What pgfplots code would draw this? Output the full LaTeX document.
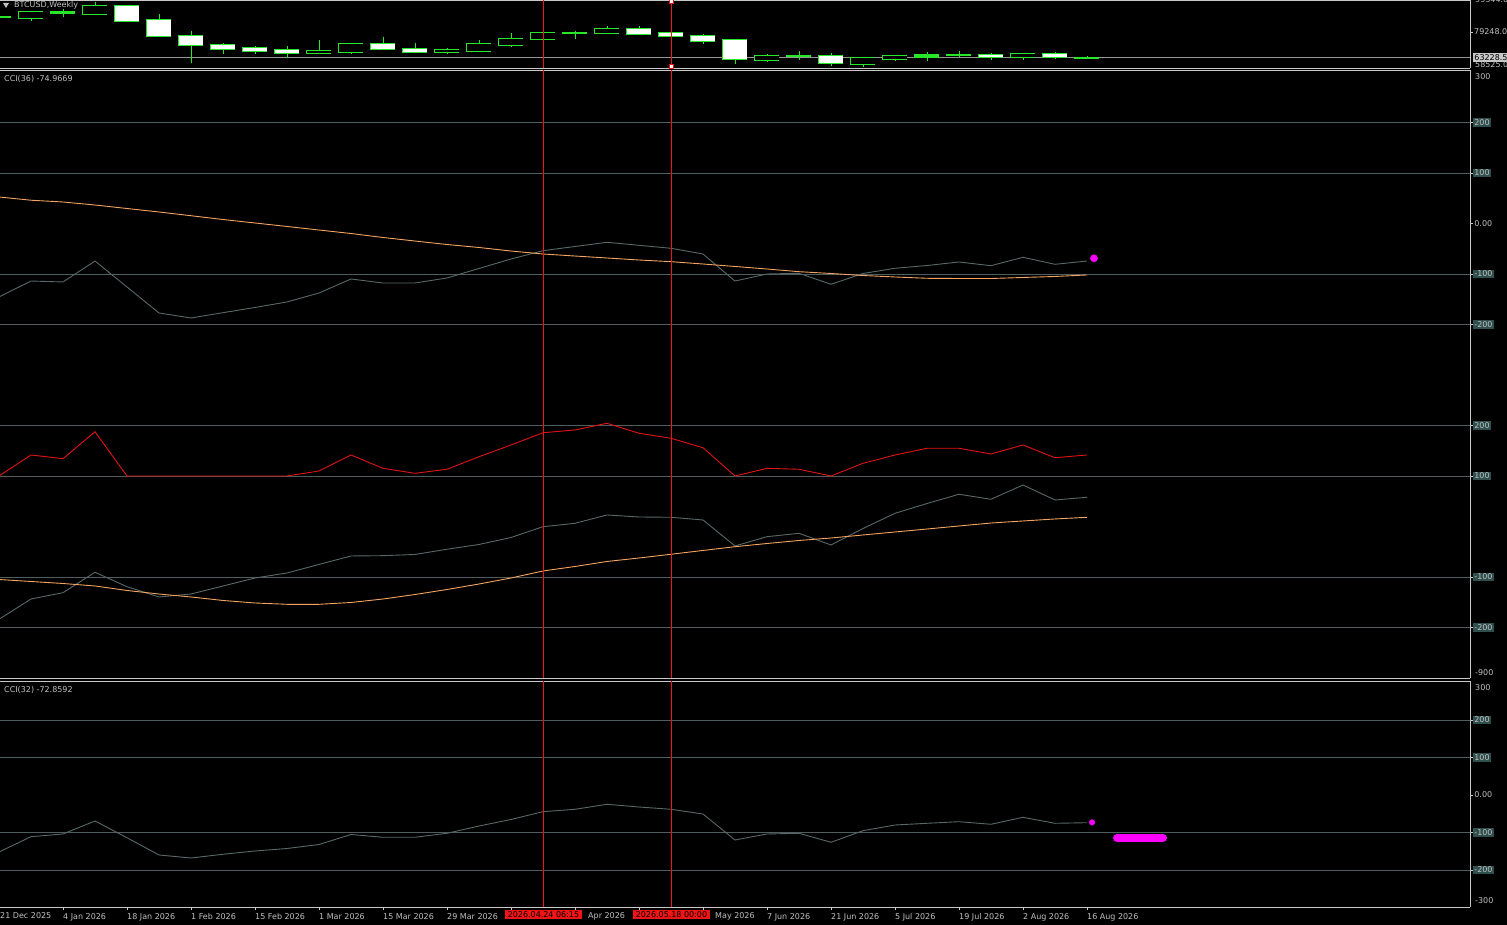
\documentclass[border=0pt]{standalone}
\usepackage{fontspec}
\setmainfont{DejaVu Sans}
\usepackage{pgfplots}
\pgfplotsset{compat=1.18}
\usepackage{pgfplotstable}

\definecolor{txt}{RGB}{192,192,192}
\definecolor{frame}{RGB}{200,200,200}
\definecolor{lvl}{RGB}{78,94,94}
\definecolor{lvlbox}{RGB}{47,79,79}
\definecolor{ccigray}{RGB}{88,104,104}
\definecolor{maor}{RGB}{244,164,96}
\definecolor{cred}{RGB}{225,20,20}
\definecolor{vred}{RGB}{240,20,20}
\definecolor{cg}{RGB}{40,230,40}
\definecolor{mag}{RGB}{255,0,255}
\definecolor{pline}{RGB}{150,150,150}
\definecolor{hl}{RGB}{200,200,200}

\newcommand\lbl{\fontsize{8}{9.6}\selectfont}

% weekly candles: k = week index from 21 Dec 2025; L low, lo/hi body, H high
\pgfplotstableread{
k L lo hi H
1 86344 87852 91620 91620
3 89924 90740 95576 98276
10 65432 65872 67316 74224
11 65620 66876 71712 71712
14 65244 66500 67944 69388
15 66876 67504 71712 74224
16 70016 71272 74852 78432
17 74664 74664 78620 78620
19 77992 78808 81132 83016
24 60596 61852 64176 65244
27 57268 59340 63108 63108
28 61036 62480 64176 64992
32 61664 63360 65432 65432
}\bull
\pgfplotstableread{
k L lo hi H
4 85716 86344 95576 95576
5 75920 76548 86596 90552
6 59592 70896 76548 80064
7 65244 68760 70896 72528
8 65432 67504 69012 70456
9 62732 65872 67756 70456
12 68384 68384 71712 76108
13 65872 66500 68384 72340
20 77552 78180 80944 83016
21 76548 76548 78620 79248
22 71900 73282 76736 78180
23 58964 62104 74036 74036
26 58084 59592 64176 66248
31 61664 63360 64616 66248
33 62480 63360 65432 66876
}\bear
\pgfplotstableread{
k L lo hi H
0 87726 88354 88794 89296
2 88856 90992 91620 93504
18 74664 78494 78934 79876
25 61664 63799 64176 67316
29 61036 63360 64616 66500
30 63736 64490 64678 67316
34 62104 62606 63228.5 64176
}\doji

% k, CCI(36), its average, red series (shifted), lower series (shifted), its average (shifted), CCI(32)
\pgfplotstableread{
k cci ma red low lowma cci32
0 -145.5 52.5 -500.0 -783.8 -705.0 -152.0
1 -113.9 46.1 -458.4 -743.6 -708.9 -111.2
2 -115.8 42.6 -465.7 -731.1 -712.9 -104.0
3 -74.3 36.6 -412.3 -690.7 -717.8 -69.3
4 -125.7 29.7 -500.0 -719.2 -726.7 -113.9
5 -177.2 22.8 -500.0 -739.6 -733.7 -160.0
6 -187.1 15.4 -500.0 -733.7 -739.6 -168.0
7 -176.6 7.9 -500.0 -717.8 -746.5 -158.1
8 -166.3 1.0 -500.0 -702.0 -751.5 -149.3
9 -155.4 -5.9 -500.0 -692.1 -754.1 -142.7
10 -137.6 -12.9 -490.1 -675.2 -754.1 -132.0
11 -109.9 -19.8 -458.4 -658.4 -750.5 -105.3
12 -117.8 -27.7 -484.8 -657.8 -743.6 -112.8
13 -117.8 -34.7 -494.7 -655.4 -734.7 -112.8
14 -107.9 -41.6 -486.7 -645.1 -724.8 -102.1
15 -89.1 -47.5 -461.8 -635.6 -713.9 -82.7
16 -70.3 -54.5 -438.6 -621.8 -702.0 -65.3
17 -53.9 -60.4 -414.3 -600.4 -688.1 -44.5
18 -45.5 -64.4 -408.9 -593.7 -679.2 -38.1
19 -37.2 -68.3 -395.6 -577.2 -669.3 -24.8
20 -43.2 -72.3 -415.4 -581.2 -662.4 -32.0
21 -49.1 -75.6 -425.3 -581.8 -655.0 -38.1
22 -60.4 -80.2 -444.0 -587.1 -647.5 -50.7
23 -113.9 -85.1 -500.0 -638.6 -640.0 -120.0
24 -100.0 -90.1 -484.8 -620.2 -633.7 -104.0
25 -98.6 -95.4 -486.7 -613.5 -627.7 -102.1
26 -120.4 -99.0 -500.0 -636.6 -622.8 -126.1
27 -99.0 -103.0 -474.9 -604.0 -616.8 -95.2
28 -88.7 -105.9 -458.4 -573.9 -610.9 -80.0
29 -83.2 -108.5 -445.1 -554.5 -605.0 -75.5
30 -76.2 -108.9 -445.1 -536.2 -599.0 -71.2
31 -83.6 -108.9 -456.4 -546.1 -593.1 -78.1
32 -66.9 -106.9 -438.6 -517.8 -589.1 -59.5
33 -80.8 -104.9 -463.8 -547.5 -585.1 -75.5
34 -74.3 -101.9 -458.4 -542.2 -581.8 -73.9
}\ccidata

\pgfplotsset{
  panel/.style={
    scale only axis, width=1470pt, xmin=0.03125, xmax=45.96875, clip=false,
    axis x line=box, axis y line=right,
    axis line style={-, draw=frame, line width=0.8pt},
    every outer y axis line/.append style={-},
    every outer x axis line/.append style={-},
    tick align=outside, major tick length=3pt,
    tick style={draw=frame, line width=0.8pt},
    ticklabel style={font=\lbl, text=txt},
    yticklabel style={anchor=west, inner sep=1pt},
    xtick=\empty,
    grid style={draw=lvl, line width=0.8pt},
  },
  lvlpanel/.style={
    panel, ymajorgrids,
    yticklabel style={fill=lvlbox, inner sep=1.2pt, text=txt},
    extra y tick style={grid=none, yticklabel style={fill=none}},
  },
  vline/.style={draw=vred, line width=1.1pt, mark=none},
  wick/.style={draw=none, mark=none, forget plot,
    error bars/.cd, y dir=plus, y explicit, error mark=none,
    error bar style={draw=cg, line width=0.9pt}},
  bodyout/.style={draw=none, mark=none, forget plot,
    error bars/.cd, y dir=plus, y explicit, error mark=none,
    error bar style={draw=cg, line width=25pt, line cap=butt, shorten <=-0.9pt, shorten >=-0.9pt}},
  bodyin/.style={draw=none, mark=none, forget plot,
    error bars/.cd, y dir=plus, y explicit, error mark=none,
    error bar style={draw=#1, line width=23.2pt, line cap=butt}},
}

\begin{document}
\begin{tikzpicture}
\fill[black] (0,0) rectangle (1507pt,925pt);
\useasboundingbox (0,0) rectangle (1507pt,925pt);

% ---------- price panel ----------
\begin{axis}[panel, at={(0pt,925pt)}, anchor=north west, height=68pt,
  ymin=56640, ymax=99344, ytick={79248}, yticklabels={79248.0}]
\addplot[pline, line width=0.8pt] coordinates {(0.03125,63228.5) (45.96875,63228.5)};
\addplot[wick] table[x=k, y=L, y error expr=\thisrow{H}-\thisrow{L}] {\bull};
\addplot[wick] table[x=k, y=L, y error expr=\thisrow{H}-\thisrow{L}] {\bear};
\addplot[wick] table[x=k, y=L, y error expr=\thisrow{H}-\thisrow{L}] {\doji};
\addplot[bodyout] table[x=k, y=lo, y error expr=\thisrow{hi}-\thisrow{lo}] {\bull};
\addplot[bodyout] table[x=k, y=lo, y error expr=\thisrow{hi}-\thisrow{lo}] {\bear};
\addplot[bodyout] table[x=k, y=lo, y error expr=\thisrow{hi}-\thisrow{lo}] {\doji};
\addplot[bodyin=black] table[x=k, y=lo, y error expr=\thisrow{hi}-\thisrow{lo}] {\bull};
\addplot[bodyin=white] table[x=k, y=lo, y error expr=\thisrow{hi}-\thisrow{lo}] {\bear};
\addplot[vline] coordinates {(17.0156,56640) (17.0156,99344)};
\addplot[vline] coordinates {(21.0156,56640) (21.0156,99344)};
\addplot[only marks, mark=square*, mark size=1.8pt, mark options={fill=white, draw=vred, line width=0.6pt}]
  coordinates {(21.0156,98600) (21.0156,57700)};
\end{axis}

% ---------- CCI(36) panel ----------
\begin{axis}[lvlpanel, at={(0pt,855pt)}, anchor=north west, height=608.5pt,
  ymin=-901, ymax=304,
  ytick={200,100,-100,-200,-400,-500,-700,-800},
  yticklabels={200,100,-100,-200,200,100,-100,-200},
  extra y ticks={0}, extra y tick labels={0.00}]
\addplot[ccigray, line width=0.9pt] table[x=k, y=cci] {\ccidata};
\addplot[maor, line width=0.9pt] table[x=k, y=ma] {\ccidata};
\addplot[cred, line width=0.9pt] table[x=k, y=red] {\ccidata};
\addplot[ccigray, line width=0.9pt] table[x=k, y=low] {\ccidata};
\addplot[maor, line width=0.9pt] table[x=k, y=lowma] {\ccidata};
\addplot[only marks, mark=*, mark size=3.6pt, mag] coordinates {(34.22,-68.9)};
\addplot[vline] coordinates {(17.0156,-901) (17.0156,304)};
\addplot[vline] coordinates {(21.0156,-901) (21.0156,304)};
\end{axis}

% ---------- CCI(32) panel ----------
\begin{axis}[lvlpanel, at={(0pt,243.5pt)}, anchor=north west, height=226pt,
  ymin=-300, ymax=302.7,
  ytick={200,100,-100,-200}, yticklabels={200,100,-100,-200},
  extra y ticks={0}, extra y tick labels={0.00},
  xtick={0,2,...,34}, xtick pos=left,
  xticklabels={21 Dec 2025,4 Jan 2026,18 Jan 2026,1 Feb 2026,15 Feb 2026,1 Mar 2026,15 Mar 2026,29 Mar 2026,{},{},{},{},7 Jun 2026,21 Jun 2026,5 Jul 2026,19 Jul 2026,2 Aug 2026,16 Aug 2026},
  xticklabel style={anchor=north west, xshift=-1pt, yshift=-2pt, inner sep=1pt}]
\addplot[ccigray, line width=0.9pt] table[x=k, y=cci32] {\ccidata};
\addplot[only marks, mark=*, mark size=2.8pt, mag] coordinates {(34.16,-73)};
\addplot[mag, line width=8pt, line cap=round] coordinates {(34.94,-114.7) (36.375,-114.7)};
\addplot[vline] coordinates {(17.0156,-300) (17.0156,302.7)};
\addplot[vline] coordinates {(21.0156,-300) (21.0156,302.7)};
\coordinate (d1) at (axis cs:17.0156,-300);
\coordinate (d2) at (axis cs:21.0156,-300);
\end{axis}

% ---------- texts ----------
\begin{scope}[every node/.style={font=\lbl, text=txt, inner sep=0pt}]
\fill[txt] (3pt,922pt) -- (9pt,922pt) -- (6pt,917pt) -- cycle;
\node[anchor=west] at (14pt,920pt) {BTCUSD,Weekly};
\node[anchor=west] at (4pt,846pt) {CCI(36) -74.9669};
\node[anchor=west] at (4pt,235pt) {CCI(32) -72.8592};
\node[anchor=west] at (0pt,9pt) {21 Dec 2025};
\node[anchor=west] at (588pt,9pt) {Apr 2026};
\node[anchor=west] at (715pt,9pt) {May 2026};
\node[anchor=west] at (1475pt,925pt) {99344.0};
\node[anchor=west] at (1475pt,860pt) {58525.0};
\node[anchor=west, fill=hl, text=black, inner sep=1.2pt] at (1473pt,867.7pt) {63228.5};
\node[anchor=west] at (1475pt,848pt) {300};
\node[anchor=west] at (1475pt,252pt) {-900};
\node[anchor=west] at (1475pt,237pt) {300};
\node[anchor=west] at (1475pt,24.5pt) {-300};
\node[anchor=north, fill=vred, text=black, inner xsep=3pt, inner ysep=1.5pt] at ([yshift=-2.5pt]d1) {2026.04.24 06:15};
\node[anchor=north, fill=vred, text=black, inner xsep=3pt, inner ysep=1.5pt] at ([yshift=-2.5pt]d2) {2026.05.18 00:00};
\end{scope}
\end{tikzpicture}
\end{document}
